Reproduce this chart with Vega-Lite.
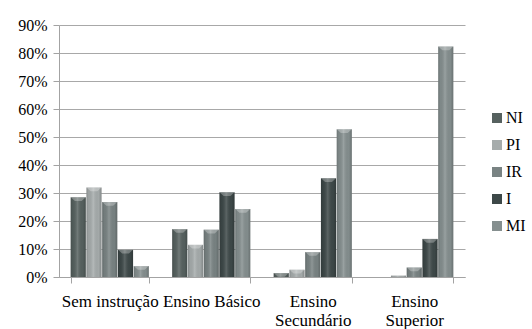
{
  "$schema": "https://vega.github.io/schema/vega-lite/v6.json",
  "width": 406,
  "height": 252,
  "autosize": {"type": "none"},
  "padding": {"left": 59, "top": 25, "right": 67, "bottom": 52},
  "background": "white",
  "config": {
    "font": "'Liberation Serif', 'DejaVu Serif', serif",
    "view": {"stroke": null},
    "axis": {
      "labelFont": "'Liberation Serif', 'DejaVu Serif', serif",
      "labelColor": "#000000",
      "domainColor": "#a3a3a3",
      "tickColor": "#a3a3a3",
      "gridColor": "#a8a8a8",
      "domainWidth": 1,
      "tickWidth": 1,
      "gridWidth": 1,
      "title": null
    },
    "legend": {
      "labelFont": "'Liberation Serif', 'DejaVu Serif', serif"
    }
  },
  "data": {
    "values": [
      {"nivel": "Sem instrução", "grupo": "NI", "pct": 0.285},
      {"nivel": "Sem instrução", "grupo": "PI", "pct": 0.32},
      {"nivel": "Sem instrução", "grupo": "IR", "pct": 0.268},
      {"nivel": "Sem instrução", "grupo": "I", "pct": 0.097},
      {"nivel": "Sem instrução", "grupo": "MI", "pct": 0.039},
      {"nivel": "Ensino Básico", "grupo": "NI", "pct": 0.171},
      {"nivel": "Ensino Básico", "grupo": "PI", "pct": 0.115},
      {"nivel": "Ensino Básico", "grupo": "IR", "pct": 0.169},
      {"nivel": "Ensino Básico", "grupo": "I", "pct": 0.303},
      {"nivel": "Ensino Básico", "grupo": "MI", "pct": 0.243},
      {"nivel": "Ensino Secundário", "grupo": "NI", "pct": 0.014},
      {"nivel": "Ensino Secundário", "grupo": "PI", "pct": 0.026},
      {"nivel": "Ensino Secundário", "grupo": "IR", "pct": 0.089},
      {"nivel": "Ensino Secundário", "grupo": "I", "pct": 0.353},
      {"nivel": "Ensino Secundário", "grupo": "MI", "pct": 0.528},
      {"nivel": "Ensino Superior", "grupo": "NI", "pct": 0.0},
      {"nivel": "Ensino Superior", "grupo": "PI", "pct": 0.005},
      {"nivel": "Ensino Superior", "grupo": "IR", "pct": 0.034},
      {"nivel": "Ensino Superior", "grupo": "I", "pct": 0.136},
      {"nivel": "Ensino Superior", "grupo": "MI", "pct": 0.823}
    ]
  },
  "encoding": {
    "x": {
      "field": "nivel",
      "type": "nominal",
      "sort": ["Sem instrução", "Ensino Básico", "Ensino Secundário", "Ensino Superior"],
      "scale": {"paddingInner": 0.23, "paddingOuter": 0.115},
      "axis": {
        "labelAngle": 0,
        "tickBand": "extent",
        "tickSize": 6,
        "labelPadding": 10,
        "labelFontSize": 17,
        "labelLineHeight": 19,
        "labelExpr": "indexof(datum.label, 'Ensino S') == 0 ? split(datum.label, ' ') : datum.label"
      }
    },
    "xOffset": {
      "field": "grupo",
      "type": "nominal",
      "sort": ["NI", "PI", "IR", "I", "MI"],
      "scale": {"paddingInner": 0.04}
    },
    "y": {
      "field": "pct",
      "type": "quantitative",
      "scale": {"domain": [0, 0.9]},
      "axis": {
        "values": [0, 0.1, 0.2, 0.3, 0.4, 0.5, 0.6, 0.7, 0.8, 0.9],
        "format": ".0%",
        "tickSize": 6,
        "labelPadding": 6,
        "labelFontSize": 16,
        "grid": true
      }
    }
  },
  "layer": [
    {
      "mark": {"type": "bar"},
      "encoding": {
        "color": {
          "field": "grupo",
          "type": "nominal",
          "sort": ["NI", "PI", "IR", "I", "MI"],
          "scale": {
            "domain": ["NI", "PI", "IR", "I", "MI"],
            "range": ["#56615f", "#a6acac", "#798383", "#3d4848", "#858f8f"]
          },
          "legend": {
            "title": null,
            "orient": "none",
            "legendX": 430,
            "legendY": 85,
            "padding": 0,
            "symbolType": "square",
            "symbolSize": 100,
            "symbolStrokeWidth": 0,
            "symbolOpacity": 1,
            "labelFontSize": 16,
            "labelColor": "#000000",
            "labelOffset": 1,
            "rowPadding": 11
          }
        }
      }
    },
    {
      "mark": {
        "type": "bar",
        "fill": {
          "gradient": "linear",
          "x1": 0, "x2": 1, "y1": 0, "y2": 0,
          "stops": [
            {"offset": 0, "color": "rgba(0,0,0,0.18)"},
            {"offset": 0.15, "color": "rgba(0,0,0,0.05)"},
            {"offset": 0.45, "color": "rgba(255,255,255,0.16)"},
            {"offset": 0.8, "color": "rgba(0,0,0,0.02)"},
            {"offset": 1, "color": "rgba(0,0,0,0.2)"}
          ]
        }
      },
      "encoding": {}
    },
    {
      "transform": [{"filter": "datum.pct > 0.01"}],
      "mark": {
        "type": "point",
        "shape": "M-1,0L1,0L0.45,0.5L-0.45,0.5Z",
        "size": 225,
        "filled": true,
        "fill": "#ffffff",
        "fillOpacity": 0.28,
        "strokeWidth": 0
      },
      "encoding": {}
    }
  ]
}
